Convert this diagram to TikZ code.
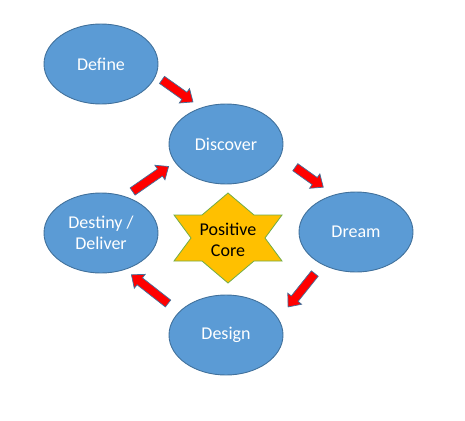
\documentclass[tikz,border=0pt]{standalone}
\usepackage{fontspec}
\setmainfont{Carlito}
\usetikzlibrary{shapes.geometric,shapes.arrows,calc}

\definecolor{stageblue}{HTML}{5B9BD5}
\definecolor{stageline}{HTML}{41719C}
\definecolor{coregold}{HTML}{FFC000}
\definecolor{coregreen}{HTML}{70AD47}

% block arrow from one named coordinate to another
\newcommand\stagearrow[3]{%
  \path let \p1=($(#2)-(#1)$), \n1={atan2(\y1,\x1)}, \n2={veclen(\x1,\y1)} in
    node[sarrow, rotate=\n1, minimum height=\n2, anchor=tail] (#3) at (#1) {};
}

\begin{document}
\begin{tikzpicture}[
    x=1pt, y=-1pt,
    stage/.style={
        ellipse, draw=stageline, fill=stageblue, line width=0.9pt,
        minimum width=114pt, minimum height=80pt, inner sep=0pt,
        text=white, align=center,
        font=\fontsize{18}{21}\selectfont
    },
    coretext/.style={
        align=center, inner sep=0pt,
        font=\fontsize{18}{21}\selectfont
    },
    sarrow/.style={
        single arrow, draw=stageline, fill=red, line width=0.7pt,
        inner xsep=0pt, inner ysep=4pt,
        single arrow head extend=4.5pt, single arrow tip angle=80
    },
    corestar/.style={draw=coregreen, fill=coregold, line width=0.8pt},
]
\useasboundingbox (0,0) rectangle (465,420);

% the five stages
\node [stage] (define)   at (101, 64) {Define};
\node [stage] (discover) at (226,144) {Discover};
\node [stage] (dream)    at (356,232) {Dream};
\node [stage] (design)   at (226,335) {Design};
\node [stage] (destiny)  at (101,233) {Destiny /\\Deliver};

% six pointed star in the middle
\draw[corestar] (228,193) -- (254,215) -- (282,215) -- (265,238)
    -- (282,261) -- (254,261) -- (228,283) -- (202,261)
    -- (174,261) -- (191,238) -- (174,215) -- (202,215) -- cycle;
\node [coretext] (core) at (228,240) {Positive\\Core};

% arrow ends
\coordinate (a1s) at (161.7, 79.7); \coordinate (a1e) at (192.7,101.7);
\coordinate (a2s) at (295.0,167.0); \coordinate (a2e) at (323.0,187.0);
\coordinate (a3s) at (315.0,273.3); \coordinate (a3e) at (288.3,306.7);
\coordinate (a4s) at (168.3,303.7); \coordinate (a4e) at (131.7,275.0);
\coordinate (a5s) at (132.3,191.7); \coordinate (a5e) at (168.3,166.7);

\stagearrow{a1s}{a1e}{arr1}
\stagearrow{a2s}{a2e}{arr2}
\stagearrow{a3s}{a3e}{arr3}
\stagearrow{a4s}{a4e}{arr4}
\stagearrow{a5s}{a5e}{arr5}

\end{tikzpicture}
\end{document}
